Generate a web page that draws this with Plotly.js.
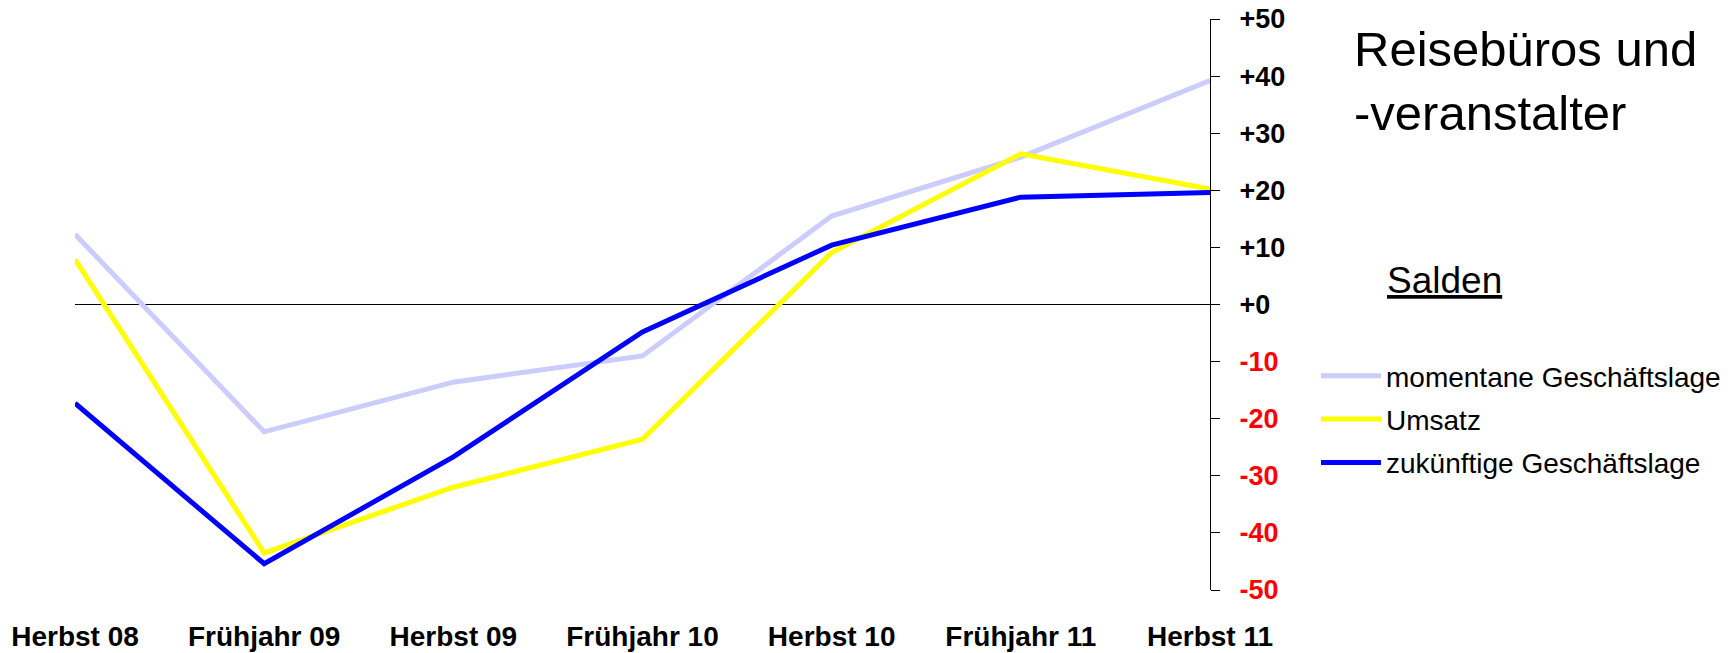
<!DOCTYPE html>
<html>
<head>
<meta charset="utf-8">
<script src="https://cdn.plot.ly/plotly-3.0.1.min.js"></script>
<style>html,body{margin:0;padding:0;background:#fff;}#chart{width:1735px;height:653px;}</style>
</head>
<body>
<div id="chart"></div>
<script>
var categories = ["Herbst 08", "Frühjahr 09", "Herbst 09", "Frühjahr 10", "Herbst 10", "Frühjahr 11", "Herbst 11"];
var seriesNames = ["momentane Geschäftslage", "Umsatz", "zukünftige Geschäftslage"];
var momentane = [12.3, -22.3, -13.6, -9.0, 15.5, 25.8, 39.2];
var umsatz = [7.9, -43.5, -32.0, -23.6, 9.1, 26.4, 20.2];
var zukuenftige = [-17.3, -45.4, -26.7, -4.8, 10.4, 18.8, 19.6];
var tickValues = [50, 40, 30, 20, 10, 0, -10, -20, -30, -40, -50];
var tickLabels = ["+50", "+40", "+30", "+20", "+10", "+0", "-10", "-20", "-30", "-40", "-50"];
var titleText = "Reisebüros und<br>-veranstalter";
var subtitleText = "Salden";

var FONT = "Liberation Sans, Arial, Helvetica, sans-serif";
var colors = ["#CCCCFF", "#FFFF00", "#0000FF"];
var seriesValues = [momentane, umsatz, zukuenftige];

var xIdx = categories.map(function (c, i) { return i; });
var traces = seriesValues.map(function (vals, k) {
  return {
    type: "scatter",
    mode: "lines",
    x: xIdx,
    y: vals,
    name: seriesNames[k],
    legendgroup: "g" + k,
    line: { color: colors[k], width: 5 },
    hoverinfo: "x+y+name"
  };
});

var styledTicks = tickLabels.map(function (t, i) {
  return tickValues[i] < 0 ? '<span style="color:#FF0000">' + t + '</span>' : t;
});

// plot area in pixels: x 75..1210, y 19..590
var PL = 75, PR = 1210, PT = 19, PB = 590;
function px2paperX(px) { return (px - PL) / (PR - PL); }
function px2paperY(py) { return (PB - py) / (PB - PT); }

var layout = {
  width: 1735,
  height: 653,
  margin: { l: PL, r: 1735 - PR, t: PT, b: 653 - PB, pad: 0 },
  paper_bgcolor: "#ffffff",
  plot_bgcolor: "#ffffff",
  font: { family: FONT, color: "#000000" },
  showlegend: true,
  legend: {
    xref: "container", yref: "container",
    x: 1316 / 1735, y: 1 - 351 / 653,
    xanchor: "left", yanchor: "top",
    font: { family: FONT, size: 28, color: "#000000" },
    bgcolor: "rgba(0,0,0,0)",
    borderwidth: 0,
    tracegroupgap: 4,
    traceorder: "grouped",
    itemwidth: 60
  },
  xaxis: {
    type: "linear",
    range: [0, 6],
    tickvals: xIdx,
    ticktext: categories,
    showgrid: false,
    zeroline: false,
    showline: false,
    ticks: "",
    ticklabelstandoff: 27,
    tickfont: { family: FONT, size: 28, color: "#000000", weight: "bold" }
  },
  yaxis: {
    range: [-50, 50],
    side: "right",
    tickvals: tickValues,
    ticktext: styledTicks,
    showgrid: false,
    zeroline: true,
    zerolinecolor: "#000000",
    zerolinewidth: 1.3,
    showline: true,
    linecolor: "#000000",
    linewidth: 1.3,
    ticks: "outside",
    ticklen: 9,
    tickwidth: 1.3,
    tickcolor: "#000000",
    ticklabelstandoff: 14,
    tickfont: { family: FONT, size: 27, color: "#000000", weight: "bold" }
  },
  annotations: [{
    text: titleText,
    xref: "paper", yref: "paper",
    x: px2paperX(1352), y: px2paperY(20),
    xanchor: "left", yanchor: "top", align: "left",
    showarrow: false,
    font: { family: FONT, size: 49, color: "#000000" }
  }, {
    text: "<u>" + subtitleText + "</u>",
    xref: "paper", yref: "paper",
    x: px2paperX(1385), y: px2paperY(280),
    xanchor: "left", yanchor: "middle",
    showarrow: false,
    font: { family: FONT, size: 37, color: "#000000" }
  }]
};

Plotly.newPlot("chart", traces, layout, { displayModeBar: false, responsive: false });
</script>
</body>
</html>
